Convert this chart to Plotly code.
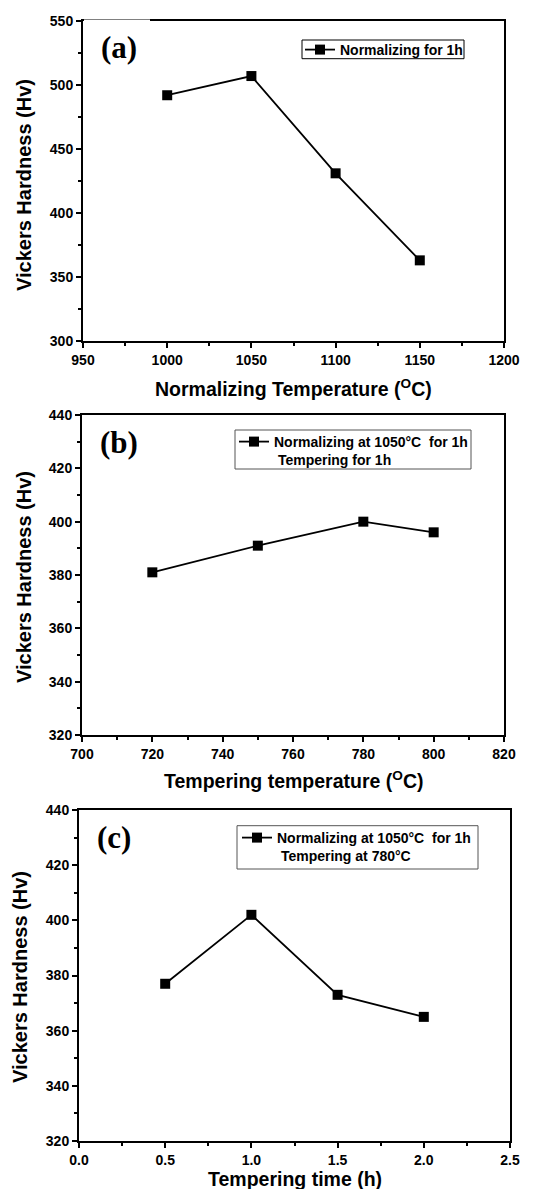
import plotly.graph_objects as go

# ---- data ----
norm_temp = [1000, 1050, 1100, 1150]
norm_hv = [492, 507, 431, 363]

temper_temp = [720, 750, 780, 800]
temper_hv = [381, 391, 400, 396]

temper_time = [0.5, 1.0, 1.5, 2.0]
time_hv = [377, 402, 373, 365]

W, H = 535, 1189
SANS = "Liberation Sans, Arial, sans-serif"
SERIF = "Liberation Serif, Times New Roman, serif"


def px_x(p):
    return p / W


def px_y(p):
    return 1 - p / H


panels = [
    dict(x=norm_temp, y=norm_hv, xr=[950, 1200], yr=[300, 550], xd=50, yd=50,
         xdom=[83, 504], ydom=[21, 341], tag="(a)", xt_off=47, yt=(24, 185),
         xtitle="Normalizing Temperature (<sup>O</sup>C)",
         name="Normalizing for 1h", legend="legend",
         leg_xy=(300, 34), box=(302, 464, 40, 58.7), leg_border="black"),
    dict(x=temper_temp, y=temper_hv, xr=[700, 820], yr=[320, 440], xd=20, yd=20,
         xdom=[82, 504], ydom=[415, 735], tag="(b)", xt_off=45, yt=(24, 577),
         xtitle="Tempering temperature (<sup>O</sup>C)",
         name="Normalizing at 1050°C\u00a0 for 1h<br>\u00a0Tempering for 1h",
         legend="legend2", leg_xy=(234, 426), box=(235, 471, 430, 469),
         leg_border="#555555"),
    dict(x=temper_time, y=time_hv, xr=[0, 2.5], yr=[320, 440], xd=0.5, yd=20,
         xdom=[79, 510], ydom=[810, 1141], tag="(c)", xt_off=38, yt=(20, 977),
         xtitle="Tempering time (h)",
         name="Normalizing at 1050°C\u00a0 for 1h<br>\u00a0Tempering at 780°C",
         legend="legend3", leg_xy=(237, 822), box=(237, 478, 825.7, 869),
         leg_border="#555555"),
]

fig = go.Figure()
annotations = []
shapes = []
layout = dict(
    width=W, height=H,
    margin=dict(l=0, r=0, t=0, b=0, pad=0),
    paper_bgcolor="white", plot_bgcolor="white",
    font=dict(family=SANS, color="black"),
)

for i, p in enumerate(panels, start=1):
    xa = "x" if i == 1 else f"x{i}"
    ya = "y" if i == 1 else f"y{i}"
    fig.add_trace(go.Scatter(
        x=p["x"], y=p["y"], mode="lines+markers", name=p["name"],
        xaxis=xa, yaxis=ya, legend=p["legend"],
        line=dict(color="black", width=1.8),
        marker=dict(symbol="square", size=10, color="black"),
    ))
    xdom = [px_x(p["xdom"][0]), px_x(p["xdom"][1])]
    ydom = [px_y(p["ydom"][1]), px_y(p["ydom"][0])]
    common = dict(
        showgrid=False, zeroline=False, showline=True, linecolor="black",
        linewidth=2, mirror=True, ticks="outside", ticklen=5, tickwidth=1.5,
        tickcolor="black", automargin=False,
        tickfont=dict(family=SANS, size=14, color="black", weight="bold"),
    )
    layout["xaxis" if i == 1 else f"xaxis{i}"] = dict(
        domain=xdom, range=p["xr"], dtick=p["xd"], tick0=p["xr"][0],
        anchor=ya,
        minor=dict(dtick=p["xd"] / 2, ticks="outside", ticklen=3,
                   tickwidth=1.5, tickcolor="black"),
        tickformat=".1f" if p["xd"] < 1 else "d",
        **common)
    layout["yaxis" if i == 1 else f"yaxis{i}"] = dict(
        domain=ydom, range=p["yr"], dtick=p["yd"], tick0=p["yr"][0],
        anchor=xa,
        minor=dict(dtick=p["yd"] / 2, ticks="outside", ticklen=3,
                   tickwidth=1.5, tickcolor="black"),
        **common)

    # panel tag
    annotations.append(dict(
        text=p["tag"], xref="paper", yref="paper",
        x=px_x(p["xdom"][0] + 16), y=px_y(p["ydom"][0] + 27),
        xanchor="left", yanchor="middle", showarrow=False,
        font=dict(family=SERIF, size=31, color="black", weight="bold")))
    # x axis title
    xmid = (p["xdom"][0] + p["xdom"][1]) / 2
    annotations.append(dict(
        text=p["xtitle"], xref="paper", yref="paper",
        x=px_x(xmid), y=px_y(p["ydom"][1] + p["xt_off"]),
        xanchor="center", yanchor="middle", showarrow=False,
        font=dict(family=SANS, size=19.5, color="black", weight="bold")))
    # y axis title
    annotations.append(dict(
        text="Vickers Hardness (Hv)", xref="paper", yref="paper",
        x=px_x(p["yt"][0]), y=px_y(p["yt"][1]), textangle=-90,
        xanchor="center", yanchor="middle", showarrow=False,
        font=dict(family=SANS, size=20, color="black", weight="bold")))

    # legend frame
    bx = p["box"]
    shapes.append(dict(type="rect", xref="paper", yref="paper",
                       x0=px_x(bx[0]), x1=px_x(bx[1]),
                       y0=px_y(bx[3]), y1=px_y(bx[2]),
                       line=dict(color=p["leg_border"], width=1),
                       fillcolor="white", layer="below"))

    layout[p["legend"]] = dict(
        x=px_x(p["leg_xy"][0]), y=px_y(p["leg_xy"][1]),
        xanchor="left", yanchor="top", xref="paper", yref="paper",
        bgcolor="rgba(0,0,0,0)", borderwidth=0,
        font=dict(family=SANS, size=14, color="black", weight="bold"),
        itemwidth=30, tracegroupgap=0, valign="top",
    )

# white gap on the top frame of panel (a)
shapes.append(dict(type="line", xref="paper", yref="paper",
                   x0=px_x(84), x1=px_x(150), y0=px_y(21), y1=px_y(21),
                   line=dict(color="white", width=3)))

layout["annotations"] = annotations
layout["shapes"] = shapes
layout["showlegend"] = True
fig.update_layout(**layout)
fig.write_html("out.html",
               config={"displayModeBar": False},
               post_script="document.body.style.margin='0';"
                           "document.body.style.overflow='hidden';")
